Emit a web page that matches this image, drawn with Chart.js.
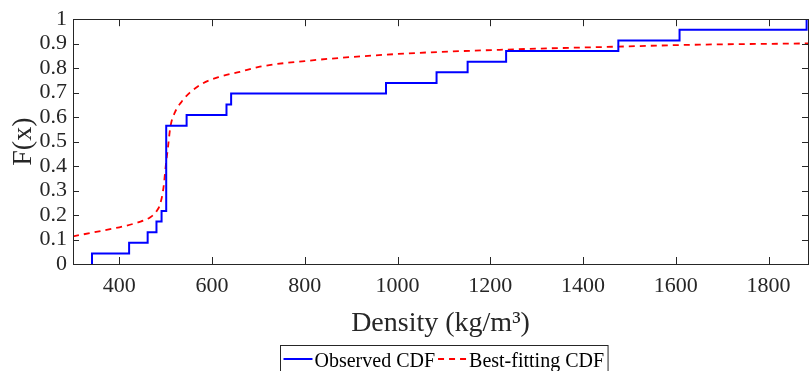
<!DOCTYPE html>
<html>
<head>
<meta charset="utf-8">
<script src="https://cdn.jsdelivr.net/npm/chart.js@4.4.1/dist/chart.umd.min.js"></script>
<style>
  html, body { margin: 0; padding: 0; background: #fff; }
  #wrap { width: 810px; height: 371px; }
</style>
</head>
<body>
<div id="wrap"><canvas id="cdfChart"></canvas></div>
<script>
// observed (empirical) CDF: jump positions and level after each jump
var obsX = [341, 421, 461, 480, 491, 501, 545, 631, 641, 975, 1084, 1151, 1234, 1476, 1608, 1882];
var obsF = [0.043, 0.087, 0.130, 0.174, 0.217, 0.565, 0.609, 0.652, 0.696, 0.739, 0.783, 0.826, 0.870, 0.913, 0.957, 1.0];

// best-fitting CDF
var fitX = [300, 360, 400, 440, 466, 480, 488, 495, 500, 505, 510, 520, 535, 552, 580, 617, 660, 703, 800, 1000, 1220, 1476, 1650, 1885];
var fitF = [0.113, 0.135, 0.150, 0.170, 0.190, 0.215, 0.245, 0.310, 0.400, 0.480, 0.560, 0.620, 0.665, 0.700, 0.738, 0.765, 0.785, 0.806, 0.829, 0.858, 0.875, 0.888, 0.896, 0.901];

var xTicks = [400, 600, 800, 1000, 1200, 1400, 1600, 1800];
var yTicks = [0, 0.1, 0.2, 0.3, 0.4, 0.5, 0.6, 0.7, 0.8, 0.9, 1];
var legendLabels = ['Observed CDF', 'Best-fitting CDF'];

var serif = "'Liberation Serif', 'Times New Roman', serif";
var axisColor = '#262626';

var obsData = [{ x: obsX[0], y: 0 }];
for (var i = 0; i < obsX.length; i++) obsData.push({ x: obsX[i], y: obsF[i] });
var fitData = fitX.map(function (x, i) { return { x: x, y: fitF[i] }; });

// box around the axes with inward tick marks (matlab style)
var boxTicks = {
    id: 'boxTicks',
    afterDatasetsDraw: function (chart) {
        var c = chart.ctx, a = chart.chartArea;
        var xs = chart.scales.x, ys = chart.scales.y;
        c.save();
        c.strokeStyle = axisColor;
        c.lineWidth = 1;
        c.beginPath();
        xs.ticks.forEach(function (t) {
            var px = Math.round(xs.getPixelForValue(t.value)) + 0.5;
            c.moveTo(px, a.bottom); c.lineTo(px, a.bottom - 7);
            c.moveTo(px, a.top); c.lineTo(px, a.top + 7);
        });
        ys.ticks.forEach(function (t) {
            var py = Math.round(ys.getPixelForValue(t.value)) + 0.5;
            c.moveTo(a.left, py); c.lineTo(a.left + 6, py);
            c.moveTo(a.right, py); c.lineTo(a.right - 6, py);
        });
        c.stroke();
        c.strokeRect(Math.round(a.left) + 0.5, Math.round(a.top) + 0.5,
                     Math.round(a.right - a.left), Math.round(a.bottom - a.top));
        c.restore();
    },
    afterDraw: function (chart) {
        var c = chart.ctx, a = chart.chartArea;
        var ds = chart.data.datasets;
        c.save();
        c.font = '20px ' + serif;
        var w0 = c.measureText(legendLabels[0]).width;
        var w1 = c.measureText(legendLabels[1]).width;
        var lineLen = 29;
        var total = 3 + lineLen + 2 + w0 + 3 + lineLen + 2 + w1 + 4;
        var left = Math.round((a.left + a.right) / 2 + 3 - total / 2) + 0.5;
        var top = 345.5, midY = 359;
        c.fillStyle = '#fff';
        c.fillRect(left, top, total, 30);
        c.strokeStyle = axisColor;
        c.lineWidth = 1;
        c.strokeRect(left, top, total, 30);
        var x = left + 3;
        c.lineWidth = 2;
        c.strokeStyle = ds[0].borderColor;
        c.beginPath(); c.moveTo(x, midY); c.lineTo(x + lineLen, midY); c.stroke();
        x += lineLen + 2;
        c.fillStyle = '#000';
        c.textBaseline = 'alphabetic';
        c.fillText(legendLabels[0], x, 366.5);
        x += w0 + 3;
        c.strokeStyle = ds[1].borderColor;
        c.setLineDash(ds[1].borderDash);
        c.beginPath(); c.moveTo(x, midY); c.lineTo(x + lineLen, midY); c.stroke();
        c.setLineDash([]);
        x += lineLen + 2;
        c.fillText(legendLabels[1], x, 366.5);
        c.restore();
    }
};

var ctx = document.getElementById('cdfChart').getContext('2d');
var cdfChart = new Chart(ctx, {
    type: 'line',
    data: {
        datasets: [{
            label: legendLabels[0],
            data: obsData,
            borderColor: '#0000ff',
            borderWidth: 2,
            stepped: 'before',
            pointRadius: 0,
            fill: false
        }, {
            label: legendLabels[1],
            data: fitData,
            borderColor: '#ff0000',
            borderWidth: 1.8,
            borderDash: [6, 5],
            cubicInterpolationMode: 'monotone',
            pointRadius: 0,
            fill: false
        }]
    },
    options: {
        responsive: true,
        maintainAspectRatio: false,
        animation: false,
        layout: { padding: { left: 0, top: 17, right: 2, bottom: 0 } },
        plugins: {
            legend: { display: false },
            tooltip: { enabled: false }
        },
        scales: {
            x: {
                type: 'linear',
                min: 300,
                max: 1885,
                afterFit: function (s) { s.height = 107; },
                afterBuildTicks: function (s) {
                    s.ticks = xTicks.map(function (v) { return { value: v }; });
                },
                grid: { display: false, drawTicks: false },
                border: { display: false },
                ticks: {
                    autoSkip: false,
                    maxRotation: 0,
                    padding: 9,
                    color: axisColor,
                    font: { family: serif, size: 22 },
                    callback: function (v) { return String(v); }
                },
                title: {
                    display: true,
                    text: 'Density (kg/m\u00b3)',
                    color: axisColor,
                    font: { family: serif, size: 28 },
                    padding: { top: 0, bottom: 31 }
                }
            },
            y: {
                min: 0,
                max: 1,
                afterFit: function (s) { s.width = 73; },
                afterBuildTicks: function (s) {
                    s.ticks = yTicks.map(function (v) { return { value: v }; });
                },
                grid: { display: false, drawTicks: false },
                border: { display: false },
                ticks: {
                    autoSkip: false,
                    padding: 6,
                    color: axisColor,
                    font: { family: serif, size: 22 },
                    callback: function (v) { return String(Number(v.toFixed(1))); }
                },
                title: {
                    display: true,
                    text: 'F(x)',
                    color: axisColor,
                    font: { family: serif, size: 28 },
                    padding: { top: 7, bottom: 0 }
                }
            }
        }
    },
    plugins: [boxTicks]
});
</script>
</body>
</html>
